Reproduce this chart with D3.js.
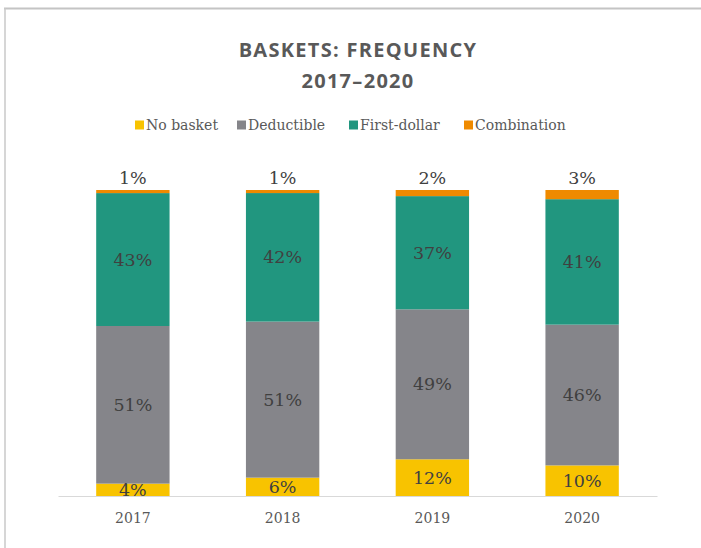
<!DOCTYPE html>
<html>
<head>
<meta charset="utf-8">
<script src="https://cdn.jsdelivr.net/npm/d3@7"></script>
<style>
  html, body { margin: 0; padding: 0; background: #fff; }
  svg { display: block; }
</style>
</head>
<body>
<svg id="chart" width="701" height="548"></svg>
<script>
// Basket types and yearly share (%) of each
const years = ["2017", "2018", "2019", "2020"];
const seriesNames = ["No basket", "Deductible", "First-dollar", "Combination"];
const noBasket    = [4, 6, 12, 10];
const deductible  = [51, 51, 49, 46];
const firstDollar = [43, 42, 37, 41];
const combination = [1, 1, 2, 3];
const colors = ["#f8c300", "#85858a", "#21967f", "#ef8a00"];

const rows = years.map((y, i) => ({
  year: y,
  "No basket": noBasket[i],
  "Deductible": deductible[i],
  "First-dollar": firstDollar[i],
  "Combination": combination[i]
}));

const svg = d3.select("#chart");
const W = 701, H = 548;
const serif = "'DejaVu Serif', Georgia, serif";
const sans = "'Open Sans', Lato, sans-serif";

// Frame lines
svg.append("line").attr("x1", 4).attr("x2", W).attr("y1", 8.5).attr("y2", 8.5)
  .attr("stroke", "#c4c4c4").attr("stroke-width", 2);
svg.append("line").attr("x1", 5).attr("x2", 5).attr("y1", 8).attr("y2", H)
  .attr("stroke", "#c8c8c8").attr("stroke-width", 1.5);

// Title
const title = svg.append("text").attr("text-anchor", "middle")
  .attr("font-family", sans).attr("font-weight", 700).attr("font-size", 20)
  .attr("letter-spacing", 1.3).attr("fill", "#595959");
title.append("tspan").attr("x", 358).attr("y", 57).text("BASKETS: FREQUENCY");
title.append("tspan").attr("x", 358).attr("y", 88).text("2017–2020");

// Scales
const x = d3.scaleBand().domain(years).range([58, 657]).paddingInner(0.51).paddingOuter(0.255);
const y = d3.scaleLinear().domain([0, 1]).range([496, 190]);
const color = d3.scaleOrdinal().domain(seriesNames).range(colors);

const stack = d3.stack().keys(seriesNames).offset(d3.stackOffsetExpand);
const stacked = stack(rows);

// Bars
const layers = svg.append("g").selectAll("g").data(stacked).join("g")
  .attr("fill", d => color(d.key));
layers.selectAll("rect").data(d => d).join("rect")
  .attr("x", d => x(d.data.year))
  .attr("width", x.bandwidth())
  .attr("y", d => y(d[1]))
  .attr("height", d => y(d[0]) - y(d[1]));

// Axis
const axis = svg.append("g").attr("transform", "translate(0,496)")
  .call(d3.axisBottom(x).tickSize(0).tickPadding(17));
axis.select(".domain").attr("stroke", "#d9d9d9").attr("stroke-width", 1.2);
axis.selectAll("text").attr("font-family", serif).attr("font-size", 14)
  .attr("fill", "#595959");

// Value labels
const labels = svg.append("g").attr("font-family", serif).attr("font-size", 17.5)
  .attr("fill", "#404040").attr("text-anchor", "middle");
stacked.forEach(layer => {
  layer.forEach(d => {
    const top = layer.key === "Combination";
    const cy = top ? y(d[1]) - 12 : (y(d[0]) + y(d[1])) / 2;
    labels.append("text")
      .attr("x", x(d.data.year) + x.bandwidth() / 2)
      .attr("y", cy)
      .attr("dy", "0.35em")
      .text(d.data[layer.key] + "%");
  });
});

// Legend
const legendX = [135, 237, 349, 464];
const legend = svg.append("g").attr("font-family", serif).attr("font-size", 14)
  .attr("fill", "#595959");
seriesNames.forEach((name, i) => {
  const g = legend.append("g").attr("transform", `translate(${legendX[i]},125)`);
  g.append("rect").attr("x", 0).attr("y", -4.5).attr("width", 9).attr("height", 9)
    .attr("fill", colors[i]);
  g.append("text").attr("x", 11).attr("y", 0).attr("dy", "0.35em").text(name);
});
</script>
</body>
</html>
